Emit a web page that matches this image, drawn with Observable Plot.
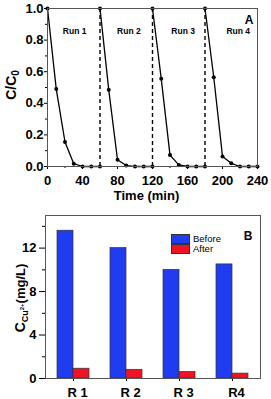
<!DOCTYPE html>
<html><head><meta charset="utf-8">
<script src="https://cdn.jsdelivr.net/npm/d3@7"></script>
<script src="https://cdn.jsdelivr.net/npm/@observablehq/plot@0.6"></script>
<style>
body{margin:0;background:#fff}
#fig{position:relative;width:271px;height:399px;font-family:"Liberation Sans",Arial,sans-serif}
#fig svg{display:block}
.leg{position:absolute;font-size:9.5px;color:#000;display:flex;align-items:center;line-height:9.5px}
.sw{width:17px;height:8px;border:0.7px solid #333;margin-right:3px}
</style>
</head><body><div id="fig"></div>
<script>
// ---- Panel A data ----
const runNames = ["Run 1", "Run 2", "Run 3", "Run 4"];
const runStarts = [0, 60, 120, 180];
const runLabelT = [31, 93, 155, 218];
const offsets = [0, 10, 20, 30, 40, 50, 60];
const run1 = [1.0, 0.49, 0.155, 0.018, 0.0, 0.0, 0.0];
const run2 = [1.0, 0.485, 0.043, 0.006, 0.0, 0.0, 0.0];
const run3 = [1.0, 0.555, 0.072, 0.01, 0.0, 0.0, 0.0];
const run4 = [1.0, 0.565, 0.064, 0.02, 0.0, 0.0, 0.0];
const xTicksA = [0, 40, 80, 120, 160, 200, 240];
const xMinorA = [20, 60, 100, 140, 180, 220];
const yTicksA = [0, 0.2, 0.4, 0.6, 0.8, 1.0];
const yMinorA = [0.1, 0.3, 0.5, 0.7, 0.9];

// ---- Panel B data ----
const cats = ["R 1", "R 2", "R 3", "R4"];
const before = [13.6, 12.0, 10.0, 10.5];
const after = [0.9, 0.8, 0.6, 0.45];
const yTicksB = [0, 4, 8, 12];
const yMinorB = [2, 6, 10, 14];
const seriesNames = ["Before", "After"];

const blue = "#1f3cf0";
const red = "#ee1426";
const font = "'Liberation Sans', Arial, sans-serif";

const runs = [run1, run2, run3, run4];
const rows = [];
runs.forEach((vals, i) => vals.forEach((c, j) => rows.push({run: runNames[i], t: runStarts[i] + offsets[j], c})));
const dashTimes = runStarts.slice(1);

const fig = document.getElementById("fig");

const A = Plot.plot({
  width: 271, height: 205,
  marginTop: 8, marginBottom: 39, marginLeft: 47, marginRight: 14,
  style: {fontFamily: font, fontWeight: "bold", fontSize: "13px", color: "#000", background: "transparent", overflow: "visible"},
  x: {domain: [0, 240]},
  y: {domain: [0, 1]},
  marks: [
    Plot.ruleX(dashTimes, {x: d => d, y1: 0, y2: 1, stroke: "#000", strokeWidth: 1.4, strokeDasharray: "4,3"}),
    Plot.line(rows, {x: "t", y: "c", z: "run", stroke: "#000", strokeWidth: 1.3}),
    Plot.dot(rows, {x: "t", y: "c", r: 2, fill: "#000"}),
    Plot.text(runNames, {x: (d, i) => runLabelT[i], y: () => 0.855, text: d => d, fontSize: 8.5, fontWeight: "bold"}),
    Plot.axisX({ticks: xTicksA, tickSize: 3, tickPadding: 6, label: null, fontSize: 13}),
    Plot.axisX({ticks: xMinorA, tickSize: 2, tickFormat: () => "", label: null}),
    Plot.axisY({ticks: yTicksA, tickSize: 3, tickPadding: 1, tickFormat: ".1f", label: null, fontSize: 13}),
    Plot.axisY({ticks: yMinorA, tickSize: 2, tickFormat: () => "", label: null}),
    Plot.frame({stroke: "#555", strokeWidth: 1}),
    Plot.text(["A"], {frameAnchor: "top-right", dx: -4, dy: 12, fontSize: 12, fontWeight: "bold", lineAnchor: "middle"}),
    Plot.text(["Time (min)"], {frameAnchor: "bottom", dx: -6, dy: 29, fontSize: 13, fontWeight: "bold", lineAnchor: "middle"})
  ]
});
fig.appendChild(A);

const barRows = cats.map((cat, i) => ({cat, before: before[i], after: after[i]}));

const B = Plot.plot({
  width: 271, height: 194,
  marginTop: 10, marginBottom: 21, marginLeft: 45, marginRight: 11,
  style: {fontFamily: font, fontWeight: "bold", fontSize: "13px", color: "#000", background: "transparent", overflow: "visible"},
  x: {domain: cats, paddingInner: 0.7, paddingOuter: 0.35},
  y: {domain: [0, 15]},
  marks: [
    Plot.barY(barRows, {x: "cat", y: "before", fill: blue, stroke: "#333", strokeWidth: 0.7, dx: -8}),
    Plot.barY(barRows, {x: "cat", y: "after", fill: red, stroke: "#333", strokeWidth: 0.7, dx: 8}),
    Plot.axisX({tickSize: 3, tickFormat: () => "", label: null}),
    Plot.axisX({tickSize: 0, tickPadding: 9, dx: 4, label: null, fontSize: 13}),
    Plot.axisY({ticks: yTicksB, tickSize: 6, tickPadding: 3, label: null, fontSize: 13}),
    Plot.axisY({ticks: yMinorB, tickSize: 3, tickFormat: () => "", label: null}),
    Plot.frame({stroke: "#555", strokeWidth: 1}),
    Plot.text(["B"], {frameAnchor: "top-right", dx: -8, dy: 21, fontSize: 12, fontWeight: "bold", lineAnchor: "middle"})
  ]
});
fig.appendChild(B);

// Rotated y-axis titles with sub/superscripts (coordinates local to each svg)
function yTitle(svg, x, y, parts) {
  const t = d3.select(svg).append("text")
    .attr("transform", `translate(${x},${y}) rotate(-90)`)
    .attr("text-anchor", "middle")
    .attr("font-family", font).attr("font-weight", "bold").attr("fill", "#000");
  parts.forEach(p => t.append("tspan").attr("font-size", p.size).attr("dy", p.dy || 0).text(p.text));
}
yTitle(A, 16, 85, [{text: "C/C", size: 14}, {text: "0", size: 10, dy: 3}]);
yTitle(B, 25, 93, [{text: "C", size: 14}, {text: "Cu", size: 9, dy: 3}, {text: "2+", size: 6, dy: -4}, {text: "(mg/L)", size: 13, dy: 1}]);

// Legend (panel B)
const legTop = 205 + 29;
[[seriesNames[0], blue], [seriesNames[1], red]].forEach(([name, col], i) => {
  const d = document.createElement("div");
  d.className = "leg";
  d.style.left = "171px";
  d.style.top = (legTop + i * 9.5) + "px";
  d.innerHTML = `<span class="sw" style="background:${col}"></span><span>${name}</span>`;
  fig.appendChild(d);
});
</script></body></html>
